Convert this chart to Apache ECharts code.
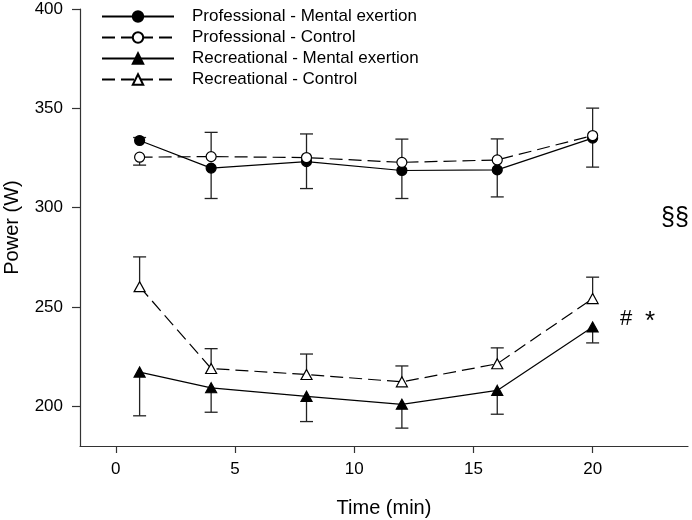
<!DOCTYPE html>
<html>
<head>
<meta charset="utf-8">
<script src="https://cdn.jsdelivr.net/npm/echarts@6/dist/echarts.min.js"></script>
<style>html,body{margin:0;padding:0;background:#fff}#c{width:692px;height:520px}</style>
</head>
<body>
<div id="c"></div>
<script>
var times = [1, 4, 8, 12, 16, 20];
var seriesNames = ['Professional - Mental exertion', 'Professional - Control', 'Recreational - Mental exertion', 'Recreational - Control'];
var profMental = [333.8, 319.9, 323.2, 318.7, 319.0, 335.0];
var profControl = [325.4, 325.7, 325.2, 322.8, 324.0, 336.3];
var recMental = [217.2, 209.3, 205.0, 201.0, 208.0, 239.9];
var recControl = [260.2, 219.0, 216.0, 212.3, 221.4, 254.2];
// signed error bars: positive drawn upward, negative drawn downward
var profMentalErr = [1.5, -15.3, -13.6, -14.1, -13.6, -14.6];
var profControlErr = [-4.0, 12.2, 11.9, 11.7, 10.6, 13.8];
var recMentalErr = [-22.0, -12.3, -12.7, -12.0, -12.0, -8.0];
var recControlErr = [15.0, 10.0, 10.3, 8.0, 8.0, 10.8];
var xTicks = [0, 5, 10, 15, 20];
var yTicks = [200, 250, 300, 350, 400];

var FONT = '"Liberation Sans", Arial, sans-serif';

function pts(vals) { return times.map(function (t, i) { return [t, vals[i]]; }); }
function errPts(vals, errs) { return times.map(function (t, i) { return [t, vals[i], errs[i]]; }); }

function errSeries(vals, errs) {
  return {
    type: 'custom',
    silent: true,
    z: 1,
    data: errPts(vals, errs),
    renderItem: function (params, api) {
      var x = api.value(0), y = api.value(1), e = api.value(2);
      var p0 = api.coord([x, y]);
      var p1 = api.coord([x, y + e]);
      var hw = 6.5;
      return {
        type: 'group',
        children: [
          { type: 'line', shape: { x1: p0[0], y1: p0[1], x2: p1[0], y2: p1[1] }, style: { stroke: '#222', lineWidth: 1.3 } },
          { type: 'line', shape: { x1: p1[0] - hw, y1: p1[1], x2: p1[0] + hw, y2: p1[1] }, style: { stroke: '#222', lineWidth: 1.3 } }
        ]
      };
    }
  };
}

function lineSeries(name, vals, symbol, filled, dashed) {
  return {
    name: name,
    type: 'line',
    z: 3,
    data: pts(vals),
    symbol: symbol,
    symbolSize: symbol === 'triangle' ? [11, 10] : 10,
    showAllSymbol: true,
    lineStyle: { color: '#000', width: 1.2, type: dashed ? [13, 6] : 'solid' },
    itemStyle: { color: filled ? '#000' : '#fff', borderColor: '#000', borderWidth: 1.2, opacity: 1 },
    emphasis: { disabled: true },
    animation: false
  };
}

var chart = echarts.init(document.getElementById('c'), null, { renderer: 'canvas' });
chart.setOption({
  animation: false,
  backgroundColor: '#fff',
  textStyle: { fontFamily: FONT },
  grid: { left: 80, right: 4, top: 9, bottom: 74, containLabel: false, outerBoundsMode: 'none' },
  legend: {
    orient: 'vertical',
    left: 96,
    top: 3,
    itemWidth: 72,
    itemHeight: 13,
    itemGap: 4,
    textStyle: { fontFamily: FONT, fontSize: 17, color: '#000', padding: [0, 0, 0, 13] },
    data: seriesNames
  },
  xAxis: {
    type: 'value',
    min: -1.5,
    max: 24,
    name: 'Time (min)',
    nameLocation: 'middle',
    nameGap: 52,
    nameTextStyle: { fontFamily: FONT, fontSize: 20, color: '#000' },
    axisLine: { show: true, onZero: false, lineStyle: { color: '#333', width: 1.2 } },
    axisTick: { show: true, length: 7, customValues: xTicks, lineStyle: { color: '#333', width: 1.2 } },
    axisLabel: { customValues: xTicks, fontSize: 17, color: '#000', margin: 15, fontFamily: FONT },
    splitLine: { show: false }
  },
  yAxis: {
    type: 'value',
    min: 180,
    max: 400,
    name: 'Power (W)',
    nameLocation: 'middle',
    nameGap: 58,
    nameRotate: 90,
    nameTextStyle: { fontFamily: FONT, fontSize: 20, color: '#000' },
    axisLine: { show: true, onZero: false, lineStyle: { color: '#333', width: 1.2 } },
    axisTick: { show: true, length: 8, customValues: yTicks, lineStyle: { color: '#333', width: 1.2 } },
    axisLabel: { customValues: yTicks, fontSize: 17, color: '#000', margin: 17, fontFamily: FONT },
    splitLine: { show: false }
  },
  graphic: [
    { type: 'text', left: 661, top: 206, style: { text: '§§', font: '25px ' + FONT, fill: '#000' } },
    { type: 'text', left: 620, top: 308, style: { text: '#', font: '22px ' + FONT, fill: '#000' } },
    { type: 'text', left: 645, top: 309, style: { text: '*', font: '26px ' + FONT, fill: '#000' } }
  ],
  series: [
    errSeries(profMental, profMentalErr),
    errSeries(profControl, profControlErr),
    errSeries(recMental, recMentalErr),
    errSeries(recControl, recControlErr),
    lineSeries(seriesNames[0], profMental, 'circle', true, false),
    lineSeries(seriesNames[1], profControl, 'circle', false, true),
    lineSeries(seriesNames[2], recMental, 'triangle', true, false),
    lineSeries(seriesNames[3], recControl, 'triangle', false, true)
  ]
});
</script>
</body>
</html>
